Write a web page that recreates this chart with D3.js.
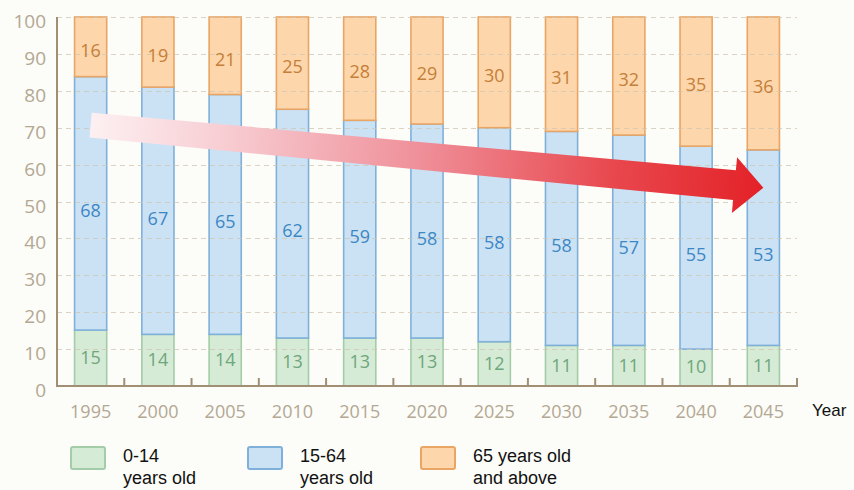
<!DOCTYPE html>
<html>
<head>
<meta charset="utf-8">
<script src="https://cdn.jsdelivr.net/npm/d3@7"></script>
<style>
  html, body { margin: 0; padding: 0; background: #fcfcf8; }
  svg { display: block; }
</style>
</head>
<body>
<svg id="chart" width="854" height="490"></svg>
<script>
// ---- data ----
const years = ["1995","2000","2005","2010","2015","2020","2025","2030","2035","2040","2045"];
const young = [15,14,14,13,13,13,12,11,11,10,11];        // 0-14
const working = [68,67,65,62,59,58,58,58,57,55,53];      // 15-64
const elderly = [16,19,21,25,28,29,30,31,32,35,36];      // 65+
const yTicks = [0,10,20,30,40,50,60,70,80,90,100];
const seriesKeys = ["young","working","elderly"];
const legendLabels = [["0-14","years old"],["15-64","years old"],["65 years old","and above"]];

const rows = years.map((yr,i)=>({year:yr, young:young[i], working:working[i], elderly:elderly[i]}));

const fills   = {young:"#d5ebd6", working:"#cbe2f5", elderly:"#fdd6ab"};
const strokes = {young:"#a3cca8", working:"#7fb0da", elderly:"#e9a564"};
const textCol = {young:"#6ea67b", working:"#3d87c4", elderly:"#c57f38"};
const textOff = {young:1, working:9, elderly:5};

const svg = d3.select("#chart");
const x = d3.scaleBand().domain(years).range([57,797]).paddingInner(0.5).paddingOuter(0.25);
const y = d3.scaleLinear().domain([0,1]).range([386,17]);

const stack = d3.stack().keys(seriesKeys).offset(d3.stackOffsetExpand);
const layers = stack(rows);

// bars
const g = svg.append("g");
layers.forEach(layer=>{
  g.selectAll(null).data(layer).enter().append("rect")
    .attr("x", d=>x(d.data.year)+0.75)
    .attr("width", x.bandwidth()-1.5)
    .attr("y", d=>y(d[1]))
    .attr("height", d=>y(d[0])-y(d[1]))
    .attr("fill", fills[layer.key])
    .attr("stroke", strokes[layer.key])
    .attr("stroke-width", 1.6);
});

// gridlines (faint, over bars)
svg.append("g").selectAll("line").data(yTicks.filter(t=>t>0)).enter().append("line")
  .attr("x1",57).attr("x2",797)
  .attr("y1",d=>Math.round(y(d/100))+0.5).attr("y2",d=>Math.round(y(d/100))+0.5)
  .attr("stroke","#cfc5b2").attr("stroke-opacity",0.75)
  .attr("stroke-width",1.2).attr("stroke-dasharray","5,4");

// axes
const axisCol = "#a08f74";
svg.append("line").attr("x1",57).attr("x2",57).attr("y1",y(1)).attr("y2",y(0)+1)
  .attr("stroke",axisCol).attr("stroke-width",2);
svg.append("line").attr("x1",56).attr("x2",798).attr("y1",y(0)).attr("y2",y(0))
  .attr("stroke",axisCol).attr("stroke-width",2);
const step = x.step();
svg.append("g").selectAll("line").data(years).enter().append("line")
  .attr("x1",d=>x(d)+step*0.75)
  .attr("x2",d=>x(d)+step*0.75)
  .attr("y1",y(0)).attr("y2",y(0)-8)
  .attr("stroke",axisCol).attr("stroke-width",2);

// y tick labels
svg.append("g").selectAll("text").data(yTicks).enter().append("text")
  .attr("x",46).attr("y",d=>y(d/100)+6)
  .attr("text-anchor","end").attr("dominant-baseline","middle")
  .attr("font-family","'Open Sans', sans-serif").attr("font-size",19)
  .attr("fill","#b3a893").text(d=>d);

// x tick labels
svg.append("g").selectAll("text").data(years).enter().append("text")
  .attr("x",d=>x(d)+x.bandwidth()/2).attr("y",418)
  .attr("text-anchor","middle")
  .attr("font-family","'Open Sans', sans-serif").attr("font-size",18)
  .attr("fill","#b3a893").text(d=>d);

svg.append("text").attr("x",812).attr("y",416)
  .attr("font-family","'Liberation Sans', Arial, sans-serif").attr("font-size",17)
  .attr("fill","#111").text("Year");

// arrow (decorative trend arrow from first to last bar)
const defs = svg.append("defs");
const grad = defs.append("linearGradient").attr("id","arrowGrad")
  .attr("x1","0%").attr("x2","100%").attr("y1","0%").attr("y2","0%");
[[0,"#fdf0f2"],[0.2,"#f7cdd2"],[0.5,"#ef8d97"],[0.78,"#e8474d"],[1,"#e32228"]].forEach(s=>{
  grad.append("stop").attr("offset",s[0]).attr("stop-color",s[1]);
});
const x0 = x(years[0])+x.bandwidth()/2, y0 = y(0.707);
const x1 = x(years[years.length-1])+x.bandwidth()/2, y1 = y(0.537);
const L = Math.hypot(x1-x0, y1-y0);
const ang = Math.atan2(y1-y0, x1-x0)*180/Math.PI;
const headL = 29, headW = 28;
const pts = [[0,-12.5],[L-headL,-15],[L-headL,-headW],[L,0],[L-headL,headW],[L-headL,15],[0,12.5]];
svg.append("g").attr("transform",`translate(${x0},${y0}) rotate(${ang})`)
  .append("path")
  .attr("d", d3.line()(pts)+"Z")
  .attr("fill","url(#arrowGrad)");

// value labels
layers.forEach(layer=>{
  svg.append("g").selectAll("text").data(layer).enter().append("text")
    .attr("x", d=>x(d.data.year)+x.bandwidth()/2)
    .attr("y", d=>(y(d[0])+y(d[1]))/2 + textOff[layer.key])
    .attr("text-anchor","middle").attr("dominant-baseline","middle")
    .attr("font-family","'Open Sans', sans-serif").attr("font-size",18)
    .attr("fill", textCol[layer.key])
    .text(d=>d.data[layer.key]);
});

// legend
const legX = [71, 248, 421];
seriesKeys.forEach((k,i)=>{
  const lg = svg.append("g");
  lg.append("rect").attr("x",legX[i]).attr("y",447).attr("width",34).attr("height",22)
    .attr("rx",2).attr("fill",fills[k]).attr("stroke",strokes[k]).attr("stroke-width",2);
  legendLabels[i].forEach((t,j)=>{
    lg.append("text").attr("x",legX[i]+52).attr("y",462+j*22)
      .attr("font-family","'Liberation Sans', Arial, sans-serif").attr("font-size",18)
      .attr("fill","#111").text(t);
  });
});
</script>
</body>
</html>
